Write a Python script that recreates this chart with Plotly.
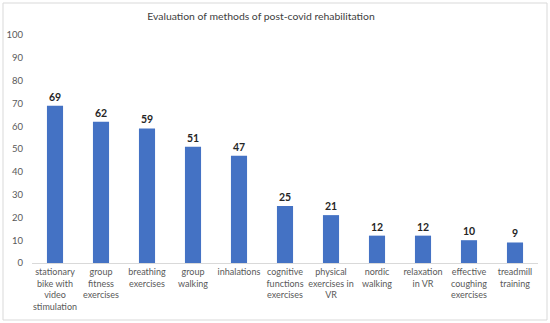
import plotly.graph_objects as go

categories = [
    "stationary<br>bike with<br>video<br>stimulation",
    "group<br>fitness<br>exercises",
    "breathing<br>exercises",
    "group<br>walking",
    "inhalations",
    "cognitive<br>functions<br>exercises",
    "physical<br>exercises in<br>VR",
    "nordic<br>walking",
    "relaxation<br>in VR",
    "effective<br>coughing<br>exercises",
    "treadmill<br>training",
]
values = [69, 62, 59, 51, 47, 25, 21, 12, 12, 10, 9]
y_ticks = [0, 10, 20, 30, 40, 50, 60, 70, 80, 90, 100]

W, H = 550, 323
L, R, T, B = 32, 12, 35, 60
pw, ph = W - L - R, H - T - B

FONT = "Lato"

fig = go.Figure(go.Bar(
    x=categories, y=values,
    marker=dict(color="#4472C4", line=dict(width=0)),
    text=values, textposition="outside",
    textfont=dict(size=10.5, color="#262626", family=FONT),
    texttemplate="<b>%{text}</b>",
    cliponaxis=False,
))

fig.update_layout(
    width=W, height=H,
    margin=dict(l=L, r=R, t=T, b=B, autoexpand=False),
    paper_bgcolor="white", plot_bgcolor="white",
    bargap=0.65,
    showlegend=False,
    title=dict(text="Evaluation of methods of post-covid rehabilitation",
               xref="container", x=261 / W, xanchor="center",
               y=1 - 16 / H, yanchor="middle",
               font=dict(size=10.4, color="#404040", family=FONT)),
    font=dict(family=FONT, color="#595959"),
    shapes=[dict(type="rect", xref="paper", yref="paper",
                 x0=(3 - L) / pw, x1=(547 - L) / pw,
                 y0=(H - B - 320) / ph, y1=(H - B - 3) / ph,
                 line=dict(color="#d9d9d9", width=1), layer="below")],
)
fig.update_xaxes(
    showline=True, linecolor="#d9d9d9", linewidth=1, automargin=False,
    tickfont=dict(size=9, color="#595959", family=FONT), tickangle=0,
    ticks="", showgrid=False,
)
fig.update_yaxes(
    range=[0, 100], tickvals=y_ticks, showgrid=False, zeroline=False,
    showline=False, ticks="", automargin=False,
    tickfont=dict(size=9.5, color="#595959", family=FONT),
    ticklabelstandoff=8,
)

fig.write_html("out.html", config={"displayModeBar": False},
               post_script="document.body.style.margin='0';")
